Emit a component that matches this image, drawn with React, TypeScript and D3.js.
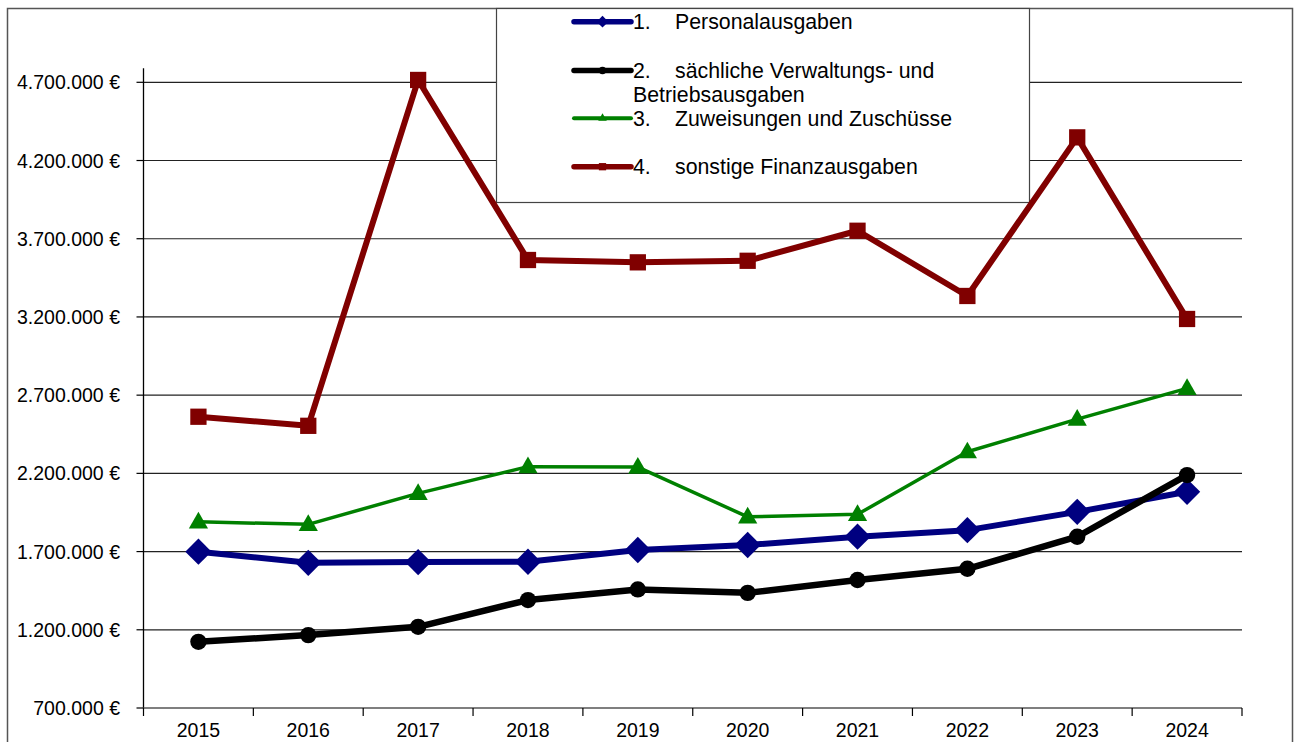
import * as d3 from 'd3';

const years = ['2015', '2016', '2017', '2018', '2019', '2020', '2021', '2022', '2023', '2024'];

const personal = [1699000, 1628000, 1633000, 1635000, 1710000, 1742000, 1795000, 1837000, 1954000, 2082000];
const saechlich = [1123000, 1166000, 1219000, 1390000, 1458000, 1436000, 1518000, 1590000, 1795000, 2189000];
const zuweisungen = [1890000, 1874000, 2072000, 2243000, 2240000, 1922000, 1938000, 2338000, 2547000, 2743000];
const sonstige = [2562000, 2504000, 4715000, 3564000, 3549000, 3559000, 3751000, 3334000, 4348000, 3187000];

const yTicks = [700000, 1200000, 1700000, 2200000, 2700000, 3200000, 3700000, 4200000, 4700000];

const W = 1294;
const H = 742;
const left = 143.5;
const right = 1242;
const top = 82.3;
const bottom = 708;
const FONT = '"Liberation Sans", Arial, sans-serif';

const de = d3.formatLocale({ decimal: ',', thousands: '.', grouping: [3], currency: ['', ' €'] });
const fmt = de.format(',.0f');

type Shape = 'diamond' | 'circle' | 'triangle' | 'square';

interface Series {
  num: string;
  label: string[];
  values: number[];
  color: string;
  width: number;
  shape: Shape;
}

const series: Series[] = [
  { num: '1.', label: ['Personalausgaben'], values: personal, color: '#000080', width: 6, shape: 'diamond' },
  { num: '2.', label: ['sächliche Verwaltungs- und', 'Betriebsausgaben'], values: saechlich, color: '#000000', width: 6.5, shape: 'circle' },
  { num: '3.', label: ['Zuweisungen und Zuschüsse'], values: zuweisungen, color: '#008000', width: 3.5, shape: 'triangle' },
  { num: '4.', label: ['sonstige Finanzausgaben'], values: sonstige, color: '#800000', width: 6, shape: 'square' },
];

const symbolTypes: Record<Shape, d3.SymbolType> = {
  diamond: d3.symbolDiamond2,
  circle: d3.symbolCircle,
  triangle: d3.symbolTriangle,
  square: d3.symbolSquare,
};
const symbolSizes: Record<Shape, number> = {
  diamond: 440,
  circle: 210,
  triangle: 160,
  square: 265,
};

function marker(shape: Shape, scale = 1) {
  return d3.symbol().type(symbolTypes[shape]).size(symbolSizes[shape] * scale)() as string;
}

export default function App() {
  const x = d3.scaleBand<string>().domain(years).range([left, right]);
  const y = d3.scaleLinear().domain([700000, 4700000]).range([bottom, top]);
  const cx = (d: string) => (x(d) ?? 0) + x.bandwidth() / 2;

  const line = d3
    .line<number>()
    .x((_, i) => cx(years[i]))
    .y((d) => y(d));

  const legendX = 496.5;
  const legendY = 8.5;
  const rowY = [21.7, 70.5, 118.3, 166.7];
  const lf = 21.3;

  return (
    <svg
      width={W}
      height={H}
      style={{ position: 'absolute', left: 0, top: 0, background: '#fff' }}
      fontFamily={FONT}
    >
      {/* outer frame */}
      <path d={`M7.5,${H} V8.5 H1292.5 V${H}`} fill="none" stroke="#555" strokeWidth={1.5} />

      {/* grid */}
      {yTicks.slice(1).map((t) => (
        <line key={t} x1={left} x2={right} y1={y(t)} y2={y(t)} stroke="#222" strokeWidth={1.2} />
      ))}

      {/* y axis */}
      <line x1={left} x2={left} y1={top - 14} y2={bottom} stroke="#000" strokeWidth={1.3} />
      {yTicks.map((t) => (
        <g key={t}>
          <line x1={left - 7} x2={left} y1={y(t)} y2={y(t)} stroke="#000" strokeWidth={1.2} />
          <text x={120} y={y(t)} dy="0.36em" textAnchor="end" fontSize={19.5} fill="#000">
            {fmt(t)} €
          </text>
        </g>
      ))}

      {/* x axis */}
      <line x1={left} x2={right} y1={bottom} y2={bottom} stroke="#555" strokeWidth={1.5} />
      {years.map((yr) => (
        <line key={'t' + yr} x1={x(yr)} x2={x(yr)} y1={bottom} y2={bottom + 8} stroke="#000" strokeWidth={1.2} />
      ))}
      <line x1={right} x2={right} y1={bottom} y2={bottom + 8} stroke="#000" strokeWidth={1.2} />
      {years.map((yr) => (
        <text key={yr} x={cx(yr)} y={737} textAnchor="middle" fontSize={19.5} fill="#000">
          {yr}
        </text>
      ))}

      {/* legend box */}
      <rect x={legendX} y={legendY} width={533} height={194} fill="#fff" stroke="#444" strokeWidth={1.2} />
      {series.map((s, i) => (
        <g key={'lg' + i}>
          <line x1={574} x2={631} y1={rowY[i]} y2={rowY[i]} stroke={s.color} strokeWidth={i === 2 ? 4 : 5.5} strokeLinecap="round" />
          <path d={marker(s.shape, 0.2)} transform={`translate(602.5,${rowY[i]})`} fill={s.color} />
          <text x={633} y={rowY[i]} dy="0.36em" fontSize={lf} fill="#000">
            {s.num}
          </text>
          <text x={675} y={rowY[i]} dy="0.36em" fontSize={lf} fill="#000">
            {s.label[0]}
          </text>
          {s.label[1] && (
            <text x={633} y={rowY[i] + 24.3} dy="0.36em" fontSize={lf} fill="#000">
              {s.label[1]}
            </text>
          )}
        </g>
      ))}

      {/* series */}
      {series.map((s, i) => (
        <g key={'s' + i}>
          <path d={line(s.values) as string} fill="none" stroke={s.color} strokeWidth={s.width} strokeLinejoin="round" />
          {s.values.map((v, j) => (
            <path
              key={j}
              d={marker(s.shape)}
              transform={`translate(${cx(years[j])},${y(v) + (s.shape === 'triangle' ? 1 : 0)})`}
              fill={s.color}
            />
          ))}
        </g>
      ))}
    </svg>
  );
}
